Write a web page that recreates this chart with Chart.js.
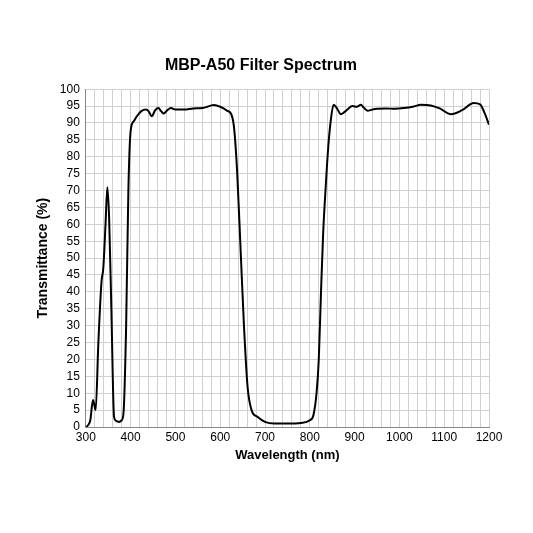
<!DOCTYPE html>
<html>
<head>
<script src="https://cdn.jsdelivr.net/npm/chart.js@4"></script>
<style>body{margin:0;background:#fff}#wrap{width:533px;height:533px}</style>
</head>
<body>
<div id="wrap"><canvas id="myChart"></canvas></div>
<script>
// wavelength (nm) and transmittance (%)
const wavelengths = [300,305,310,316,322,328,335,339,344,348,352,357,363,368,374,380,384,390,395,400,407,414,424,434,440,447,455,462,468,474,482,490,500,520,540,560,586,600,616,625,631,638,646,653,661,670,683,700,720,750,780,800,808,815,820,825,830,835,841,847,853,860,869,877,884,895,905,914,920,929,940,951,970,990,1010,1030,1048,1070,1090,1115,1140,1166,1180,1190,1200];
const transmittance = [0,0.5,2,8,5,25,43,47,60,71,62,35,3,1.8,1.5,2,4,30,70,87.6,90.5,92,93.5,94,93.5,92,93.8,94.4,93.5,92.8,93.8,94.4,94,94,94.3,94.4,95.3,94.8,93.6,92.5,88.5,75,51,30,12,5,3,1.5,1,1,1.2,2,3.5,10,20,40,58,70,82.6,91,95.4,94.5,92.6,93.2,94,95,94.8,95.4,94.6,93.6,94,94.2,94.3,94.2,94.4,94.8,95.4,95.2,94.3,92.6,93.8,95.9,95.5,93,89.5];

const points = wavelengths.map((w, i) => ({x: w, y: transmittance[i]}));

new Chart(document.getElementById('myChart').getContext('2d'), {
    type: 'line',
    data: {
        datasets: [{
            data: points,
            borderColor: '#000',
            borderWidth: 2,
            pointRadius: 0,
            cubicInterpolationMode: 'monotone',
            fill: false
        }]
    },
    options: {
        responsive: true,
        maintainAspectRatio: false,
        animation: false,
        layout: {padding: {top: 56, right: 44, bottom: 70, left: 33}},
        plugins: {
            legend: {display: false},
            title: {
                display: true,
                text: 'MBP-A50 Filter Spectrum',
                color: '#000',
                font: {family: 'Liberation Sans', size: 16, weight: 'bold'},
                padding: {bottom: 14}
            }
        },
        scales: {
            x: {
                type: 'linear', min: 300, max: 1200,
                ticks: {stepSize: 20, color: '#000', font: {family: 'Liberation Sans', size: 12},
                    callback: v => v % 100 === 0 ? v : '', autoSkip: false, maxRotation: 0},
                grid: {color: '#d0d0d0', drawTicks: false},
                border: {color: '#888'},
                title: {display: true, text: 'Wavelength (nm)', color: '#000', padding: 0,
                    font: {family: 'Liberation Sans', size: 13, weight: 'bold'}}
            },
            y: {
                min: 0, max: 100,
                ticks: {stepSize: 5, autoSkip: false, color: '#000', font: {family: 'Liberation Sans', size: 12}, padding: 6},
                grid: {color: '#d0d0d0', drawTicks: false},
                border: {color: '#888'},
                title: {display: true, text: 'Transmittance (%)', color: '#000', padding: 2,
                    font: {family: 'Liberation Sans', size: 14, weight: 'bold'}}
            }
        }
    }
});
</script>
</body>
</html>
